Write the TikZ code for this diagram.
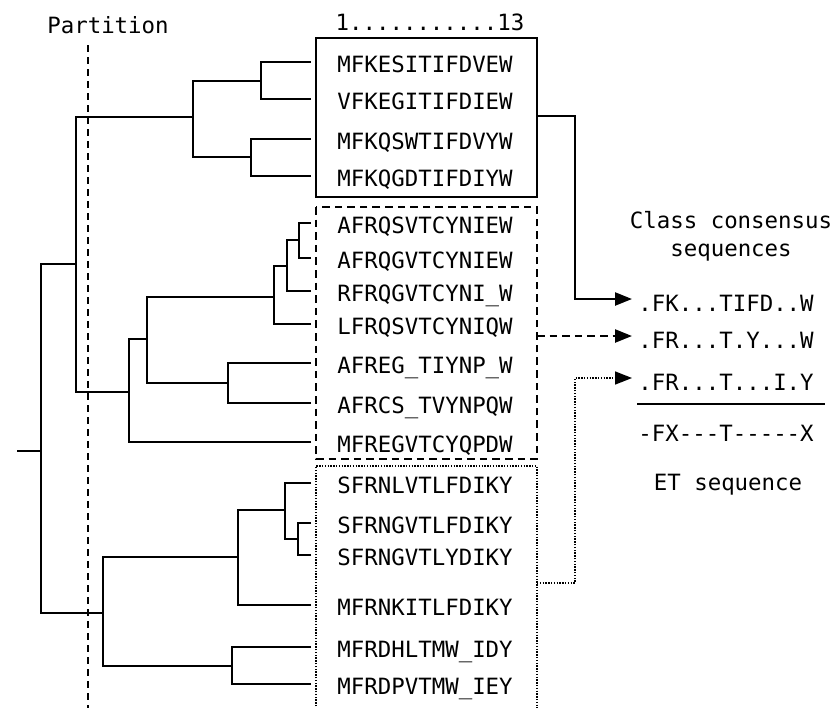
\documentclass[tikz,border=0pt]{standalone}
\usepackage{fontspec}
\newfontfamily\seqfont{DejaVu Sans Mono}
\usetikzlibrary{arrows.meta}
\tikzset{%
  seqLabel/.style={%
    font=\seqfont\fontsize{11.2pt}{13pt}\selectfont,
    anchor=west,
    inner xsep=13pt,
    inner ysep=0pt,
    text height=10.7pt,
    text depth=0pt
  },
  consLabel/.style={%
    seqLabel,
    inner xsep=3pt,
    text height=12pt
  },
  plainLabel/.style={%
    font=\seqfont\fontsize{11.2pt}{13pt}\selectfont,
    inner sep=0pt
  },
  treeEdge/.style={%
    line width=1.2pt
  },
  partLine/.style={%
    line width=1.2pt,
    dash pattern=on 3.5pt off 2.5pt
  },
  classSolid/.style={%
    line width=1.2pt
  },
  classDashed/.style={%
    line width=1.2pt,
    dash pattern=on 3.8pt off 2.5pt
  },
  classDotted/.style={%
    line width=0.8pt,
    dash pattern=on 0.7pt off 0.7pt
  },
  flowArrow/.style={%
    -{Triangle[length=8.5pt,width=6.5pt]},
    line width=1.2pt
  }
}

\begin{document}
\begin{tikzpicture}[x=0.5pt,y=-0.5pt]
  \useasboundingbox (0,0) rectangle (834,707);

  % headers
  \node[plainLabel] (partLbl) at (108,25) {Partition};
  \node[plainLabel] (posLbl) at (430,22) {1...........13};
  \draw[partLine] (88,45) -- (88,712);

  % class A (solid)
  \node[seqLabel] (s1) at (311,62) {MFKESITIFDVEW};
  \node[seqLabel] (s2) at (311,99) {VFKEGITIFDIEW};
  \node[seqLabel] (s3) at (311,139) {MFKQSWTIFDVYW};
  \node[seqLabel] (s4) at (311,176) {MFKQGDTIFDIYW};
  % class B (dashed)
  \node[seqLabel] (s5) at (311,223) {AFRQSVTCYNIEW};
  \node[seqLabel] (s6) at (311,258) {AFRQGVTCYNIEW};
  \node[seqLabel] (s7) at (311,291) {RFRQGVTCYNI\_W};
  \node[seqLabel] (s8) at (311,324) {LFRQSVTCYNIQW};
  \node[seqLabel] (s9) at (311,363) {AFREG\_TIYNP\_W};
  \node[seqLabel] (s10) at (311,403) {AFRCS\_TVYNPQW};
  \node[seqLabel] (s11) at (311,442) {MFREGVTCYQPDW};
  % class C (dotted)
  \node[seqLabel] (s12) at (311,483) {SFRNLVTLFDIKY};
  \node[seqLabel] (s13) at (311,523) {SFRNGVTLFDIKY};
  \node[seqLabel] (s14) at (311,555) {SFRNGVTLYDIKY};
  \node[seqLabel] (s15) at (311,605) {MFRNKITLFDIKY};
  \node[seqLabel] (s16) at (311,647) {MFRDHLTMW\_IDY};
  \node[seqLabel] (s17) at (311,684) {MFRDPVTMW\_IEY};

  % inner nodes of the tree
  \coordinate (nA1) at (261,81);
  \coordinate (nA2) at (251,157);
  \coordinate (nA3) at (193,117);
  \coordinate (nB1) at (299,240);
  \coordinate (nB2) at (287,266);
  \coordinate (nB3) at (274,297);
  \coordinate (nB4) at (228,383);
  \coordinate (nB5) at (147,339);
  \coordinate (nB6) at (129,392);
  \coordinate (nAB) at (76,264);
  \coordinate (nC1) at (298,539);
  \coordinate (nC2) at (285,510);
  \coordinate (nC3) at (238,557);
  \coordinate (nC4) at (232,666);
  \coordinate (nC5) at (103,613);
  \coordinate (root) at (41,451);
  \coordinate (rootStub) at (17,451);

  \draw[treeEdge] (s1.west) -| (nA1) (s2.west) -| (nA1);
  \draw[treeEdge] (s3.west) -| (nA2) (s4.west) -| (nA2);
  \draw[treeEdge] (nA1) -| (nA3) (nA2) -| (nA3);
  \draw[treeEdge] (s5.west) -| (nB1) (s6.west) -| (nB1);
  \draw[treeEdge] (nB1) -| (nB2) (s7.west) -| (nB2);
  \draw[treeEdge] (nB2) -| (nB3) (s8.west) -| (nB3);
  \draw[treeEdge] (s9.west) -| (nB4) (s10.west) -| (nB4);
  \draw[treeEdge] (nB3) -| (nB5) (nB4) -| (nB5);
  \draw[treeEdge] (nB5) -| (nB6) (s11.west) -| (nB6);
  \draw[treeEdge] (nA3) -| (nAB) (nB6) -| (nAB);
  \draw[treeEdge] (s13.west) -| (nC1) (s14.west) -| (nC1);
  \draw[treeEdge] (s12.west) -| (nC2) (nC1) -| (nC2);
  \draw[treeEdge] (nC2) -| (nC3) (s15.west) -| (nC3);
  \draw[treeEdge] (s16.west) -| (nC4) (s17.west) -| (nC4);
  \draw[treeEdge] (nC3) -| (nC5) (nC4) -| (nC5);
  \draw[treeEdge] (nAB) -| (root) (nC5) -| (root);
  \draw[treeEdge] (rootStub) -- (root);

  % class boxes
  \draw[classSolid] (316,38) rectangle (537,197);
  \draw[classDashed] (316,207) rectangle (537,459);
  \draw[classDotted] (316,712) -- (316,466) -- (537,466) -- (537,712);

  % consensus side
  \node[plainLabel] (consHdr) at (731,220) {Class consensus};
  \node[plainLabel] (consHdr2) at (731,253) {sequences};
  \node[consLabel] (cons1) at (632,299) {.FK...TIFD..W};
  \node[consLabel] (cons2) at (632,336) {.FR...T.Y...W};
  \node[consLabel] (cons3) at (632,378) {.FR...T...I.Y};
  \draw[line width=1.2pt] (637,404) -- (825,404);
  \node[consLabel] (etSeq) at (632,429) {-FX---T-----X};
  \node[plainLabel] (etLbl) at (728,485) {ET sequence};

  \coordinate (outA) at (537,116);
  \coordinate (outB) at (537,336);
  \coordinate (outC) at (537,583);
  \draw[flowArrow] (outA) -- ++(38,0) |- (cons1.west);
  \draw[flowArrow, dash pattern=on 3.8pt off 2.5pt] (outB) -- (cons2.west);
  \draw[flowArrow, line width=0.8pt, dash pattern=on 0.7pt off 0.7pt] (outC) -- ++(38,0) |- (cons3.west);
\end{tikzpicture}
\end{document}
